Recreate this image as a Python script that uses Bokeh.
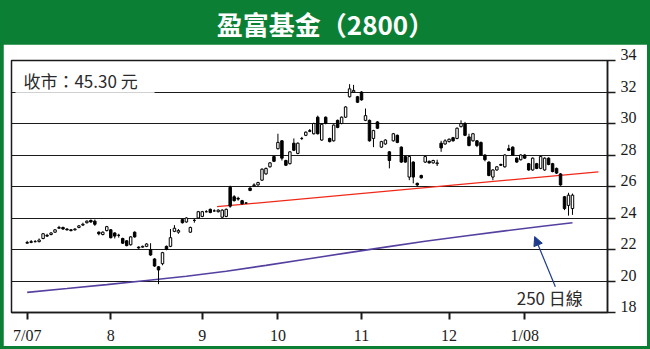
from bokeh.plotting import figure
from bokeh.layouts import column, row
from bokeh.models import (ColumnDataSource, FixedTicker, Arrow, NormalHead, Range1d, Spacer)
from bokeh.embed import file_html
from bokeh.resources import INLINE
from bokeh.core.properties import value

# ---------------- data ----------------
opens = [22.40, 22.45, 22.50, 22.50, 22.70, 22.90, 22.95, 23.10, 23.35, 23.40,
         23.30, 23.25, 23.25, 23.40, 23.55, 23.70, 23.85, 23.80, 23.10, 22.95,
         23.20, 23.25, 23.05, 22.90, 22.70, 22.55, 22.30, 23.10, 22.15, 22.15,
         22.20, 22.00, 21.40, 20.90, 21.10, 22.20, 22.20, 23.15, 23.10, 23.90,
         23.75, 23.10, 23.85, 24.00, 24.10, 24.40, 24.55, 24.45, 24.40, 24.05,
         24.10, 25.95, 25.35, 25.25, 25.10, 24.95, 25.90, 26.05, 26.10, 26.40,
         26.80, 27.25, 27.90, 28.40, 28.90, 27.65, 27.45, 28.75, 28.10, 29.05,
         29.25, 29.50, 29.35, 30.40, 28.95, 30.40, 29.05, 28.90, 30.20, 30.00,
         30.40, 31.70, 32.00, 31.70, 32.00, 30.20, 30.20, 29.05, 30.10, 28.50,
         28.70, 28.20, 28.90, 29.25, 28.50, 27.90, 26.60, 27.55, 26.20, 26.70,
         27.55, 27.60, 27.50, 27.45, 28.75, 28.70, 28.85, 29.10, 29.05, 29.80,
         30.00, 29.15, 28.90, 28.90, 28.80, 28.00, 27.55, 26.60, 27.05, 27.40,
         27.25, 28.40, 28.50, 27.80, 27.70, 28.00, 27.45, 27.05, 27.45, 27.15,
         27.05, 27.80, 27.45, 27.15, 26.80, 25.35, 24.80, 24.60]
highs = [22.55, 22.60, 22.60, 22.70, 23.05, 23.00, 23.10, 23.30, 23.50, 23.45,
         23.35, 23.30, 23.35, 23.55, 23.70, 23.85, 23.90, 23.90, 23.15, 23.15,
         23.50, 23.30, 23.10, 23.00, 22.75, 22.60, 22.85, 23.15, 22.20, 22.25,
         22.40, 22.40, 21.45, 20.95, 21.85, 22.25, 23.30, 23.55, 23.30, 23.95,
         24.05, 23.45, 23.95, 24.45, 24.45, 24.50, 24.60, 24.55, 24.55, 24.55,
         24.60, 26.05, 25.45, 25.35, 25.15, 25.00, 25.95, 26.20, 26.30, 27.15,
         27.20, 27.55, 27.95, 29.35, 28.95, 27.70, 28.25, 29.05, 28.80, 29.15,
         29.50, 29.65, 30.05, 30.50, 30.00, 30.45, 29.10, 29.95, 30.25, 30.45,
         31.10, 32.50, 32.45, 31.75, 32.05, 30.95, 30.25, 29.60, 30.15, 28.90,
         29.00, 28.25, 29.40, 29.30, 28.55, 27.95, 27.95, 27.60, 26.25, 26.75,
         27.95, 27.65, 27.70, 27.70, 28.90, 29.00, 29.05, 29.15, 29.75, 30.20,
         30.10, 29.35, 29.40, 28.95, 28.85, 28.05, 27.60, 27.10, 27.30, 27.45,
         28.05, 28.65, 28.55, 27.85, 28.05, 28.05, 27.50, 27.85, 27.50, 27.95,
         27.85, 27.85, 27.50, 27.20, 26.85, 25.40, 25.60, 25.55]
lows = [22.35, 22.40, 22.45, 22.45, 22.65, 22.80, 22.90, 23.05, 23.30, 23.25,
        23.20, 23.15, 23.20, 23.35, 23.50, 23.65, 23.70, 23.50, 22.90, 22.90,
        23.15, 22.70, 22.70, 22.75, 22.35, 22.20, 22.25, 22.75, 22.05, 22.10,
        22.15, 21.60, 20.90, 19.80, 21.00, 21.95, 22.15, 23.10, 23.00, 23.65,
        23.70, 23.05, 23.70, 23.95, 24.05, 24.35, 24.30, 24.40, 24.35, 24.00,
        24.05, 24.65, 25.05, 25.10, 24.85, 24.90, 25.70, 26.00, 26.05, 26.35,
        26.75, 27.20, 27.55, 28.35, 27.65, 27.30, 27.40, 28.25, 28.05, 28.95,
        29.20, 29.45, 29.30, 29.30, 28.90, 29.95, 28.80, 28.85, 29.70, 29.95,
        30.35, 31.65, 31.95, 31.30, 31.45, 30.15, 28.85, 28.50, 29.65, 28.45,
        28.65, 27.15, 28.85, 28.75, 27.50, 27.50, 26.40, 26.20, 26.00, 26.50,
        27.50, 27.45, 27.45, 27.30, 28.20, 28.65, 28.80, 28.85, 29.00, 29.75,
        29.20, 28.55, 28.85, 28.50, 27.95, 27.60, 26.65, 26.40, 27.00, 27.30,
        27.20, 28.25, 27.95, 27.50, 27.65, 27.75, 27.00, 27.00, 27.10, 27.10,
        27.00, 27.35, 26.90, 26.80, 26.05, 24.50, 24.15, 24.20]
closes = [22.45, 22.50, 22.50, 22.60, 23.00, 22.85, 23.05, 23.25, 23.40, 23.30,
          23.25, 23.20, 23.30, 23.50, 23.60, 23.80, 23.75, 23.60, 23.00, 23.10,
          23.45, 22.75, 22.85, 22.90, 22.40, 22.25, 22.80, 22.80, 22.10, 22.20,
          22.35, 21.65, 20.95, 20.70, 21.80, 22.00, 22.75, 23.35, 23.20, 23.70,
          24.00, 23.40, 23.85, 24.40, 24.40, 24.40, 24.35, 24.45, 24.50, 24.50,
          24.55, 24.75, 25.10, 25.20, 24.90, 24.95, 25.75, 26.10, 26.25, 27.10,
          27.15, 27.50, 27.60, 28.80, 27.80, 27.35, 28.20, 28.30, 28.75, 29.05,
          29.45, 29.55, 30.00, 29.35, 29.95, 30.00, 28.85, 29.90, 29.75, 30.40,
          31.05, 32.20, 32.10, 31.35, 31.50, 30.50, 28.90, 29.55, 29.70, 28.85,
          28.95, 27.65, 29.35, 28.80, 27.55, 27.55, 27.90, 26.60, 26.10, 26.55,
          27.90, 27.50, 27.65, 27.50, 28.45, 28.90, 29.00, 28.90, 29.70, 30.00,
          29.25, 28.60, 29.35, 28.60, 28.00, 27.70, 26.70, 27.05, 27.25, 27.35,
          28.00, 28.30, 28.00, 27.55, 28.00, 27.80, 27.05, 27.80, 27.15, 27.90,
          27.80, 27.40, 26.95, 26.85, 26.10, 24.60, 25.45, 25.45]

month_ticks = [0, 21, 44, 63, 84, 106, 125]
month_labels = ["7/07", "8", "9", "10", "11", "12", "1/08"]
price_ticks = [18, 20, 22, 24, 26, 28, 30, 32, 34]

ma_days = [0, 10, 20, 30, 40, 50, 60, 70, 80, 90, 100, 110, 120, 130, 137]
ma_values = [19.28, 19.52, 19.77, 20.03, 20.30, 20.62, 20.99, 21.38, 21.77,
             22.15, 22.52, 22.86, 23.18, 23.49, 23.70]

trend_days = [47.7, 143.5]
trend_values = [24.72, 26.93]

title_text = "盈富基金（2800）"
close_note = "收市：45.30 元"
ma_note = "250 日線"

GREEN = "#0b8035"
INK = "#1a1a1a"

# ---------------- header ----------------
header = figure(width=650, height=44, x_range=Range1d(0, 1), y_range=Range1d(0, 1),
                x_axis_location=None, y_axis_location=None,
                output_backend="svg", toolbar_location=None,
                min_border=0, background_fill_color=GREEN, border_fill_color=GREEN,
                outline_line_color=None)
header.grid.visible = False
header.text(x=[0.5], y=[0.48], text=[title_text], text_align="center",
            text_baseline="middle", text_color="white",
            text_font=value("Noto Sans CJK TC"), text_font_style="bold",
            text_font_size=value("26px"))

# ---------------- main chart ----------------
p = figure(width=644, height=302,
           x_range=Range1d(-3.94, 145.8), y_range=Range1d(18, 34),
           y_axis_location="right", output_backend="svg", toolbar_location=None,
           min_border_left=8, min_border_right=40,
           min_border_top=16, min_border_bottom=33,
           background_fill_color="white", border_fill_color="white",
           outline_line_color=INK, outline_line_width=1.5)

p.xgrid.visible = False
p.ygrid.ticker = FixedTicker(ticks=price_ticks)
p.ygrid.grid_line_color = INK
p.ygrid.grid_line_width = 1.2

yax = p.yaxis[0]
yax.ticker = FixedTicker(ticks=price_ticks)
yax.major_label_overrides = {t: f"{t}\n " for t in price_ticks}
yax.major_label_text_line_height = 0.65
yax.major_tick_out = 8
yax.major_tick_in = 0
yax.minor_tick_line_color = None
yax.major_tick_line_width = 1.5
yax.axis_line_width = 1.5
yax.axis_line_color = INK
yax.major_tick_line_color = INK
yax.major_label_standoff = 5
yax.major_label_text_font = "Liberation Serif"
yax.major_label_text_font_size = "16px"
yax.major_label_text_color = INK

xax = p.xaxis[0]
xax.ticker = FixedTicker(ticks=month_ticks)
xax.major_label_overrides = {t: l for t, l in zip(month_ticks, month_labels)}
xax.major_tick_out = 7
xax.major_tick_in = 0
xax.minor_tick_line_color = None
xax.major_tick_line_width = 2
xax.axis_line_width = 1.5
xax.axis_line_color = INK
xax.major_tick_line_color = INK
xax.major_label_standoff = 7
xax.major_label_text_font = "Liberation Serif"
xax.major_label_text_font_size = "16px"
xax.major_label_text_color = INK

# lines
p.line(ma_days, ma_values, line_color="#5540a0", line_width=1.6)
p.line(trend_days, trend_values, line_color="#f02818", line_width=1.3)

# candles
days = list(range(len(opens)))
src = ColumnDataSource(dict(
    x=days,
    low=lows, high=highs,
    top=[max(o, c) for o, c in zip(opens, closes)],
    bottom=[min(o, c) for o, c in zip(opens, closes)],
    fill=["white" if c >= o else "black" for o, c in zip(opens, closes)],
))
p.segment(x0="x", y0="low", x1="x", y1="high", source=src,
          line_color="black", line_width=1)
p.vbar(x="x", width=0.62, top="top", bottom="bottom", source=src,
       fill_color="fill", line_color="black", line_width=1)

# closing note box
p.quad(left=[-2.94], right=[32.0], bottom=[31.92], top=[33.87],
       fill_color="white", fill_alpha=0.8, line_color=None)
p.text(x=[-0.95], y=[32.75], text=[close_note], text_font=value("Noto Sans CJK TC"),
       text_font_size=value("17px"), text_baseline="middle", text_color="#2a2a2a")

# 250-day note and arrow
p.text(x=[123.0], y=[18.94], text=[ma_note], text_font=value("Noto Sans CJK TC"),
       text_font_size=value("17px"), text_baseline="middle", text_color="#2a2a2a")
p.add_layout(Arrow(end=NormalHead(size=9, fill_color="#1f3c8c", line_color="#1f3c8c"),
                   x_start=132.7, y_start=19.63, x_end=127.5, y_end=22.82,
                   line_color="#1f3c8c", line_width=1.2))

edge_l = Spacer(width=3, height=302, styles={"background-color": GREEN})
edge_r = Spacer(width=3, height=302, styles={"background-color": GREEN})
edge_b = Spacer(width=650, height=3, styles={"background-color": GREEN})

layout = column(header, row(edge_l, p, edge_r), edge_b,
                styles={"background-color": GREEN})

open("out.html", "w").write(file_html(layout, INLINE))
